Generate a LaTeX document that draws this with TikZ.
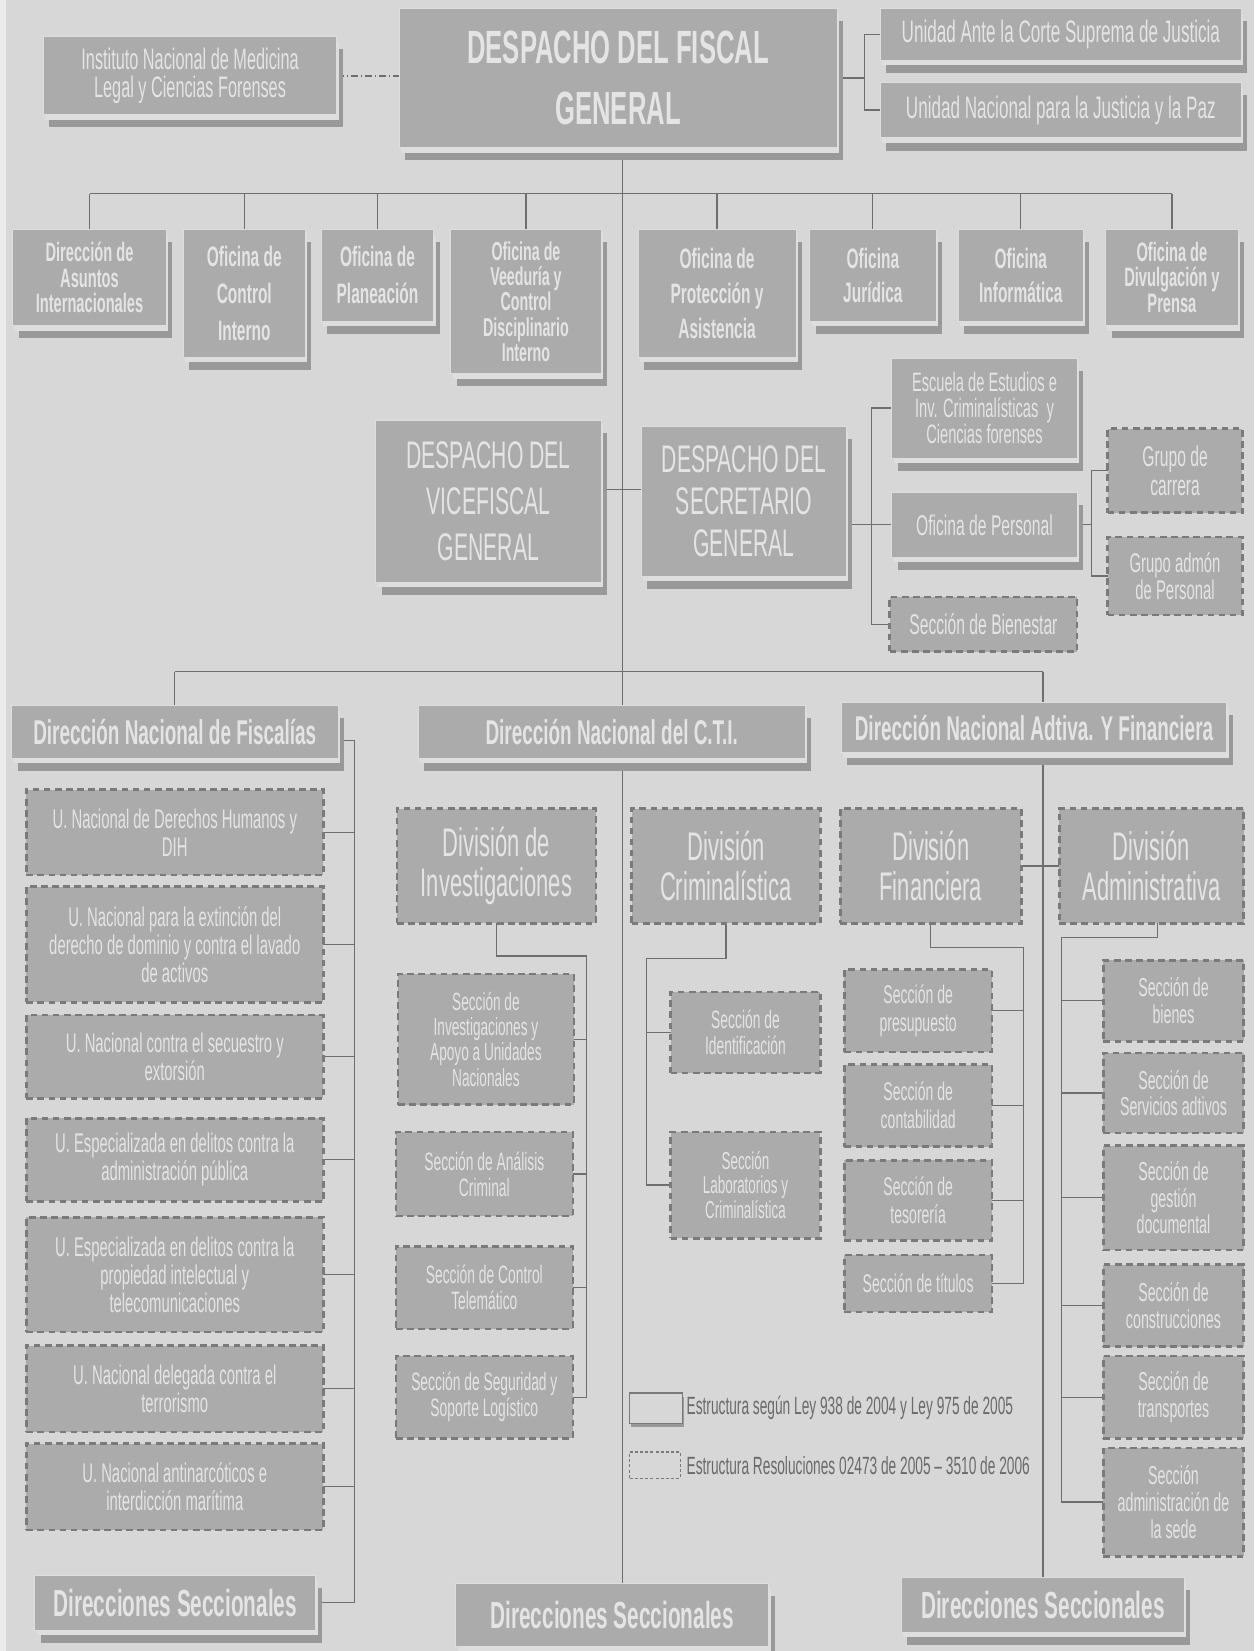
\documentclass[tikz,border=0pt]{standalone}
\usepackage{fontspec}
\setmainfont[FakeStretch=0.55]{Liberation Sans}
\usetikzlibrary{shadows}
\definecolor{bgc}{HTML}{D7D7D7}
\definecolor{boxc}{HTML}{ABABAB}
\definecolor{txtc}{HTML}{E4E4E4}
\definecolor{linec}{HTML}{6E6E6E}
\definecolor{shdc}{HTML}{999999}
\definecolor{gapc}{HTML}{DEDEDE}
\definecolor{dashc}{HTML}{7A7A7A}
\definecolor{legc}{HTML}{6A6A6A}
\newlength\pxu
\setlength\pxu{0.05cm}
\newcommand\fsz[2]{\fontsize{#1}{#2}\selectfont}
\lineskiplimit=-100pt
\pgfdeclarelayer{back}
\pgfdeclarelayer{wires}
\pgfsetlayers{back,wires,main}
\begin{document}
\begin{tikzpicture}[x=0.05cm,y=-0.05cm,
  sz/.style 2 args={minimum width=#1*\pxu,minimum height=#2*\pxu},
  shadowed/.style={general shadow={fill=shdc,shadow xshift=8pt,shadow yshift=-17pt},general shadow={fill=gapc,shadow xshift=2.5pt,shadow yshift=-7pt}},
  sbox/.style={shadowed,fill=boxc,draw=gapc,line width=1.2pt,text=txtc,align=center,inner sep=0pt,outer sep=0pt},
  dbox/.style={fill=boxc,draw=dashc,line width=3.5pt,dash pattern=on 9pt off 6pt,text=txtc,align=center,inner sep=0pt,outer sep=0pt},
  conn/.style={draw=linec,line width=1.6pt},
  linkdd/.style={draw=linec,line width=2pt,dash pattern=on 9pt off 4pt on 2pt off 4pt},
  legtxt/.style={anchor=west,text=legc,inner sep=0pt,font=\fsz{33.7}{33.7}}]
\useasboundingbox (0,0) rectangle (1191,1568);
\begin{pgfonlayer}{back}
\fill[bgc] (0,0) rectangle (1191,1568);
\fill[gapc!60!white] (0,0) rectangle (6,1568);
\end{pgfonlayer}
\node[sbox,sz={279}{74},font=\fsz{40}{38}] (inst) at (180.5,72) {Instituto Nacional de Medicina\\Legal y Ciencias Forenses};
\node[sbox,sz={416}{132},font=\bfseries\fsz{63}{82}] (fiscal) at (587,74) {DESPACHO DEL FISCAL\\GENERAL};
\node[sbox,sz={343}{49},font=\fsz{42}{42}] (corte) at (1007.5,32.5) {Unidad Ante la Corte Suprema de Justicia};
\node[sbox,sz={343}{53},font=\fsz{42}{42}] (paz) at (1007.5,104.5) {Unidad Nacional para la Justicia y la Paz};
\node[sbox,sz={146}{91},font=\bfseries\fsz{36}{34}] (asuntos) at (85,263.5) {Dirección de\\Asuntos\\Internacionales};
\node[sbox,sz={116}{121},font=\bfseries\fsz{38}{50}] (control) at (232,278.5) {Oficina de\\Control\\Interno};
\node[sbox,sz={107}{87},font=\bfseries\fsz{38}{50}] (planeacion) at (358.5,261.5) {Oficina de\\Planeación};
\node[sbox,sz={143}{137},font=\bfseries\fsz{35}{34}] (veeduria) at (499.5,286.5) {Oficina de\\Veeduría y\\Control\\Disciplinario\\Interno};
\node[sbox,sz={150}{121},font=\bfseries\fsz{38}{47}] (proteccion) at (681,278.5) {Oficina de\\Protección y\\Asistencia};
\node[sbox,sz={120}{87},font=\bfseries\fsz{38}{45}] (juridica) at (829,261.5) {Oficina\\Jurídica};
\node[sbox,sz={119}{87},font=\bfseries\fsz{38}{45}] (informatica) at (969.5,261.5) {Oficina\\Informática};
\node[sbox,sz={126}{91},font=\bfseries\fsz{36}{34}] (divulgacion) at (1113,263.5) {Oficina de\\Divulgación y\\Prensa};
\node[sbox,sz={214}{154},font=\fsz{52}{62}] (vice) at (464,476) {DESPACHO DEL\\VICEFISCAL\\GENERAL};
\node[sbox,sz={195}{142},font=\fsz{52}{57}] (secre) at (706.5,476) {DESPACHO DEL\\SECRETARIO\\GENERAL};
\node[sbox,sz={176}{95},font=\fsz{36}{35}] (escuela) at (935,387.5) {Escuela de Estudios e\\Inv. Criminalísticas\ \ y\\Ciencias forenses};
\node[sbox,sz={176}{61},font=\fsz{38.5}{38.5}] (personal) at (935,498.5) {Oficina de Personal};
\node[dbox,sz={178}{52},font=\fsz{38.5}{38.5}] (bienestar) at (934,593) {Sección de Bienestar};
\node[dbox,sz={128}{80},font=\fsz{38.5}{40}] (carrera) at (1116,447) {Grupo de\\carrera};
\node[dbox,sz={128}{74},font=\fsz{36.5}{36}] (admon) at (1116,547) {Grupo admón\\de Personal};
\node[sbox,sz={310}{50},font=\bfseries\fsz{46.5}{46.5}] (fiscalias) at (166,695) {Dirección Nacional de Fiscalías};
\node[sbox,sz={368}{50},font=\bfseries\fsz{46.5}{46.5}] (cti) at (581,695) {Dirección Nacional del C.T.I.};
\node[sbox,sz={366}{48},font=\bfseries\fsz{46.5}{46.5}] (adtiva) at (982,691) {Dirección Nacional Adtiva. Y Financiera};
\node[dbox,sz={282}{81},font=\fsz{36.5}{38}] (f1) at (166,790.5) {U. Nacional de Derechos Humanos y\\DIH};
\node[dbox,sz={282}{110},font=\fsz{36.5}{38}] (f2) at (166,897) {U. Nacional para la extinción del\\derecho de dominio y contra el lavado\\de activos};
\node[dbox,sz={282}{79},font=\fsz{36.5}{38}] (f3) at (166,1003.5) {U. Nacional contra el secuestro y\\extorsión};
\node[dbox,sz={282}{79},font=\fsz{36.5}{38}] (f4) at (166,1101.5) {U. Especializada en delitos contra la\\administración pública};
\node[dbox,sz={282}{109},font=\fsz{36.5}{38}] (f5) at (166,1210.5) {U. Especializada en delitos contra la\\propiedad intelectual y\\telecomunicaciones};
\node[dbox,sz={282}{82},font=\fsz{36.5}{38}] (f6) at (166,1319) {U. Nacional delegada contra el\\terrorismo};
\node[dbox,sz={282}{82},font=\fsz{36.5}{38}] (f7) at (166,1412) {U. Nacional antinarcóticos e\\interdicción marítima};
\node[sbox,sz={267}{52},font=\bfseries\fsz{51}{51}] (ds1) at (166.5,1522) {Direcciones Seccionales};
\node[dbox,sz={189}{109},font=\fsz{54}{54}] (dinv) at (471.5,822.5) {División de\\Investigaciones};
\node[dbox,sz={167}{124},font=\fsz{33.5}{34}] (s1) at (461.5,987) {Sección de\\Investigaciones y\\Apoyo a Unidades\\Nacionales};
\node[dbox,sz={168}{80},font=\fsz{34}{35}] (s2) at (460,1115) {Sección de Análisis\\Criminal};
\node[dbox,sz={168}{78},font=\fsz{34}{35}] (s3) at (460,1223) {Sección de Control\\Telemático};
\node[dbox,sz={168}{78},font=\fsz{34}{35}] (s4) at (460,1327) {Sección de Seguridad y\\Soporte Logístico};
\node[dbox,sz={179}{109},font=\fsz{54}{54}] (dcrim) at (689.5,822.5) {División\\Criminalística};
\node[dbox,sz={142}{77},font=\fsz{34}{35}] (c1) at (708,980.5) {Sección de\\Identificación};
\node[dbox,sz={142}{101},font=\fsz{33}{32.5}] (c2) at (708,1125.5) {Sección\\Laboratorios y\\Criminalística};
\node[dbox,sz={172}{109},font=\fsz{54}{54}] (dfin) at (884,822.5) {División\\Financiera};
\node[dbox,sz={140}{78},font=\fsz{34.5}{38}] (n1) at (872,960) {Sección de\\presupuesto};
\node[dbox,sz={140}{78},font=\fsz{34.5}{38}] (n2) at (872,1050) {Sección de\\contabilidad};
\node[dbox,sz={140}{76},font=\fsz{34.5}{38}] (n3) at (872,1140) {Sección de\\tesorería};
\node[dbox,sz={140}{54},font=\fsz{34.5}{38}] (n4) at (872,1219) {Sección de títulos};
\node[dbox,sz={175}{109},font=\fsz{54}{54}] (dadm) at (1093.5,822.5) {División\\Administrativa};
\node[dbox,sz={133}{77},font=\fsz{35}{36}] (a1) at (1114.5,950.5) {Sección de\\bienes};
\node[dbox,sz={133}{76},font=\fsz{35}{36}] (a2) at (1114.5,1038) {Sección de\\Servicios adtivos};
\node[dbox,sz={133}{99},font=\fsz{35}{36}] (a3) at (1114.5,1137.5) {Sección de\\gestión\\documental};
\node[dbox,sz={133}{78},font=\fsz{35}{36}] (a4) at (1114.5,1240) {Sección de\\construcciones};
\node[dbox,sz={133}{78},font=\fsz{35}{36}] (a5) at (1114.5,1327) {Sección de\\transportes};
\node[dbox,sz={133}{103},font=\fsz{35}{36}] (a6) at (1114.5,1426.5) {Sección\\administración de\\la sede};
\node[sbox,sz={297}{60},font=\bfseries\fsz{51}{51}] (ds2) at (581.5,1534) {Direcciones Seccionales};
\node[sbox,sz={269}{52},font=\bfseries\fsz{51}{51}] (ds3) at (990.5,1524) {Direcciones Seccionales};
\node[draw=dashc,fill=bgc,line width=2pt,inner sep=0pt,outer sep=0pt,general shadow={fill=shdc,shadow xshift=2pt,shadow yshift=-5pt},sz={50}{29}] (leg1) at (623,1337.5) {};
\node[draw=dashc,line width=1.5pt,dash pattern=on 4pt off 3pt,inner sep=0pt,outer sep=0pt,sz={48}{25}] (leg2) at (622,1391.5) {};
\node[legtxt] (leg1t) at ([xshift=4\pxu]leg1.east) {Estructura según Ley 938 de 2004 y Ley 975 de 2005};
\node[legtxt] (leg2t) at ([xshift=6\pxu]leg2.east) {Estructura Resoluciones 02473 de 2005 – 3510 de 2006};
\begin{pgfonlayer}{wires}
\coordinate (tb) at (821,74);
\coordinate (trunk) at (591,140);
\coordinate (bus1) at (591,184);
\coordinate (sb) at (828,498.5);
\coordinate (pb) at (1037,498.5);
\coordinate (bus2) at (591,638);
\coordinate (fb) at (337,703);
\coordinate (ib) at (557,908);
\coordinate (kb) at (614,910);
\coordinate (nb) at (972,900);
\coordinate (ab) at (1008,890);
\draw[linkdd] (inst.east) -- (inst.east -| fiscal.west);
\draw[conn] (fiscal.east |- tb) -- (tb);
\draw[conn] (corte.west) -| (tb) |- (paz.west);
\draw[conn] (fiscal.south -| trunk) -- (ds2.north -| trunk);
\draw[conn] (bus1 -| asuntos.north) -- (bus1 -| divulgacion.north);
\foreach \nm in {asuntos,control,planeacion,veeduria,proteccion,juridica,informatica,divulgacion}
  \draw[conn] (bus1 -| \nm.north) -- (\nm.north);
\draw[conn] ([yshift=11\pxu]vice.east) -- ([yshift=11\pxu]secre.west);
\draw[conn] (secre.east |- sb) -- (personal.west);
\draw[conn] (escuela.west) -| (sb) |- (bienestar.west);
\draw[conn] (personal.east) -- (pb);
\draw[conn] (carrera.west) -| (pb) |- (admon.west);
\draw[conn] (bus2 -| fiscalias.north) -- (bus2 -| ds3.north);
\draw[conn] (bus2 -| fiscalias.north) -- (fiscalias.north);
\draw[conn] (bus2 -| ds3.north) -- (ds3.north);
\draw[conn] (fiscalias.east |- fb) -- (fb) -- (fb |- ds1.east) -- (ds1.east);
\foreach \i in {1,...,7}
  \draw[conn] (f\i.east) -- (f\i.east -| fb);
\draw[conn] (dinv.south) |- (ib) -- (ib |- s4.east) -- (s4.east);
\foreach \i in {1,2,3}
  \draw[conn] (s\i.east) -- (s\i.east -| ib);
\draw[conn] (dcrim.south) |- (kb) -- (kb |- c2.west) -- (c2.west);
\draw[conn] (c1.west) -- (c1.west -| kb);
\draw[conn] (dfin.south) |- (nb) -- (nb |- n4.east) -- (n4.east);
\foreach \i in {1,2,3}
  \draw[conn] (n\i.east) -- (n\i.east -| nb);
\draw[conn] (dfin.east) -- (dadm.west);
\draw[conn] ([xshift=6\pxu]dadm.south) |- (ab) -- (ab |- a6.west) -- (a6.west);
\foreach \i in {1,...,5}
  \draw[conn] (a\i.west) -- (a\i.west -| ab);
\end{pgfonlayer}
\end{tikzpicture}
\end{document}
